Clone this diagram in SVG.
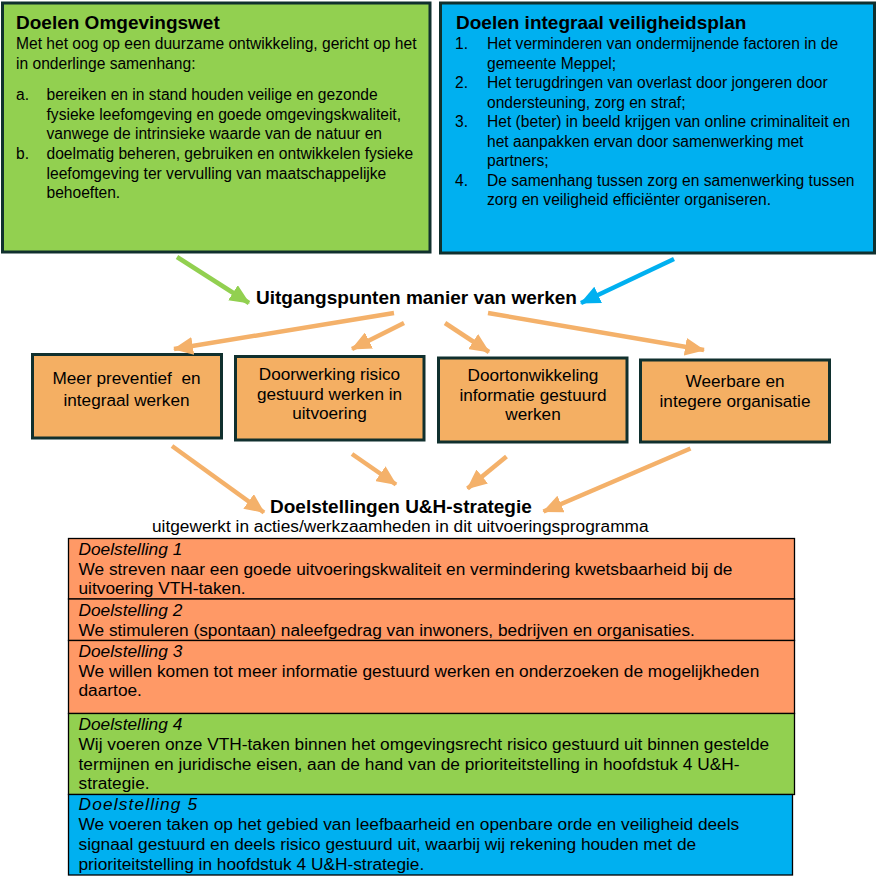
<svg xmlns="http://www.w3.org/2000/svg" width="877" height="878" viewBox="0 0 877 878">
<style>
text{font-family:"Liberation Sans",Arial,sans-serif;fill:#000}
.title{font-size:19px;font-weight:bold}
.body{font-size:15.6px}
.box{font-size:17.2px;text-anchor:middle}
.goal{font-size:17.3px}
.it{font-style:italic}
.pre{white-space:pre}
.hdr{stroke:#10302e;stroke-width:3}
.pbox{fill:#f4af63;stroke:#10302e;stroke-width:3}
.gbox{stroke:#000;stroke-width:1.3}
.arr{stroke-width:4.5;fill:none}
</style>
<defs>
<marker id="ah-o" markerUnits="userSpaceOnUse" markerWidth="20" markerHeight="18" refX="19" refY="9" orient="auto"><path d="M0,0 L20,9 L0,18 z" fill="#f4b16a"/></marker>
<marker id="ah-g" markerUnits="userSpaceOnUse" markerWidth="20" markerHeight="18" refX="19" refY="9" orient="auto"><path d="M0,0 L20,9 L0,18 z" fill="#92d050"/></marker>
<marker id="ah-b" markerUnits="userSpaceOnUse" markerWidth="20" markerHeight="18" refX="19" refY="9" orient="auto"><path d="M0,0 L20,9 L0,18 z" fill="#00b0f0"/></marker>
</defs>
<rect width="877" height="878" fill="#fff"/>

<g id="doelen-omgevingswet">
<rect class="hdr" x="2.5" y="3" width="427.5" height="249" fill="#92d050"/>
<text class="title" x="16" y="29">Doelen Omgevingswet</text>
<text class="body" x="16" y="49">Met het oog op een duurzame ontwikkeling, gericht op het</text>
<text class="body" x="16" y="68.5">in onderlinge samenhang:</text>
<text class="body" x="16" y="100">a.</text>
<text class="body" x="46.5" y="100">bereiken en in stand houden veilige en gezonde</text>
<text class="body" x="46.5" y="119.5">fysieke leefomgeving en goede omgevingskwaliteit,</text>
<text class="body" x="46.5" y="139">vanwege de intrinsieke waarde van de natuur en</text>
<text class="body" x="16" y="159">b.</text>
<text class="body" x="46.5" y="159">doelmatig beheren, gebruiken en ontwikkelen fysieke</text>
<text class="body" x="46.5" y="178.5">leefomgeving ter vervulling van maatschappelijke</text>
<text class="body" x="46.5" y="198">behoeften.</text>
</g>

<g id="doelen-ivp">
<rect class="hdr" x="440.5" y="3" width="434" height="250" fill="#00b0f0"/>
<text class="title" x="456" y="29">Doelen integraal veiligheidsplan</text>
<text class="body" x="455" y="49">1.</text>
<text class="body" x="487" y="49">Het verminderen van ondermijnende factoren in de</text>
<text class="body" x="487" y="68.5">gemeente Meppel;</text>
<text class="body" x="455" y="88">2.</text>
<text class="body" x="487" y="88">Het terugdringen van overlast door jongeren door</text>
<text class="body" x="487" y="107.5">ondersteuning, zorg en straf;</text>
<text class="body" x="455" y="127">3.</text>
<text class="body" x="487" y="127">Het (beter) in beeld krijgen van online criminaliteit en</text>
<text class="body" x="487" y="146.5">het aanpakken ervan door samenwerking met</text>
<text class="body" x="487" y="166">partners;</text>
<text class="body" x="455" y="185.5">4.</text>
<text class="body" x="487" y="185.5">De samenhang tussen zorg en samenwerking tussen</text>
<text class="body" x="487" y="205">zorg en veiligheid efficiënter organiseren.</text>
</g>

<g id="uitgangspunten">
<text class="title" x="256" y="304">Uitgangspunten manier van werken</text>
</g>

<g id="box-preventief">
<rect class="pbox" x="32.5" y="354.5" width="189" height="83.5"/>
<text class="box pre" x="126.5" y="384" xml:space="preserve">Meer preventief  en</text>
<text class="box" x="126.5" y="406">integraal werken</text>
</g>
<g id="box-risico">
<rect class="pbox" x="235.5" y="356.5" width="188.5" height="83.5"/>
<text class="box" x="329.5" y="380">Doorwerking risico</text>
<text class="box" x="329.5" y="399.5">gestuurd werken in</text>
<text class="box" x="329.5" y="419">uitvoering</text>
</g>
<g id="box-informatie">
<rect class="pbox" x="438.5" y="358" width="188.5" height="84"/>
<text class="box" x="533" y="381">Doortonwikkeling</text>
<text class="box" x="533" y="400.5">informatie gestuurd</text>
<text class="box" x="533" y="420">werken</text>
</g>
<g id="box-weerbaar">
<rect class="pbox" x="640.5" y="360" width="189" height="82"/>
<text class="box" x="735" y="387">Weerbare en</text>
<text class="box" x="735" y="407">integere organisatie</text>
</g>

<g id="doelstellingen-kop">
<text class="title" x="270" y="513">Doelstellingen U&amp;H-strategie</text>
<text class="goal" x="152" y="532">uitgewerkt in acties/werkzaamheden in dit uitvoeringsprogramma</text>
</g>

<g id="doelstelling-1">
<rect class="gbox" x="68.5" y="538.5" width="726" height="60.5" fill="#ff9966"/>
<text class="goal it" x="78.5" y="555">Doelstelling 1</text>
<text class="goal" x="78.5" y="574.5">We streven naar een goede uitvoeringskwaliteit en vermindering kwetsbaarheid bij de</text>
<text class="goal" x="78.5" y="594">uitvoering VTH-taken.</text>
</g>
<g id="doelstelling-2">
<rect class="gbox" x="68.5" y="599" width="726" height="41.5" fill="#ff9966"/>
<text class="goal it" x="78.5" y="616">Doelstelling 2</text>
<text class="goal" x="78.5" y="635.5">We stimuleren (spontaan) naleefgedrag van inwoners, bedrijven en organisaties.</text>
</g>
<g id="doelstelling-3">
<rect class="gbox" x="68.5" y="640.5" width="726" height="73" fill="#ff9966"/>
<text class="goal it" x="78.5" y="657">Doelstelling 3</text>
<text class="goal" x="78.5" y="676.5">We willen komen tot meer informatie gestuurd werken en onderzoeken de mogelijkheden</text>
<text class="goal" x="78.5" y="696">daartoe.</text>
</g>
<g id="doelstelling-4">
<rect class="gbox" x="68.5" y="713.5" width="726" height="81" fill="#92d050"/>
<text class="goal it" x="78.5" y="730">Doelstelling 4</text>
<text class="goal" x="78.5" y="750">Wij voeren onze VTH-taken binnen het omgevingsrecht risico gestuurd uit binnen gestelde</text>
<text class="goal" x="78.5" y="769.5">termijnen en juridische eisen, aan de hand van de prioriteitstelling in hoofdstuk 4 U&amp;H-</text>
<text class="goal" x="78.5" y="789">strategie.</text>
</g>
<g id="doelstelling-5">
<rect class="gbox" x="68.5" y="794.5" width="724" height="80.5" fill="#00b0f0"/>
<text class="goal it" x="78.5" y="810" letter-spacing="1.15">Doelstelling 5</text>
<text class="goal" x="78.5" y="830">We voeren taken op het gebied van leefbaarheid en openbare orde en veiligheid deels</text>
<text class="goal" x="78.5" y="850">signaal gestuurd en deels risico gestuurd uit, waarbij wij rekening houden met de</text>
<text class="goal" x="78.5" y="870">prioriteitstelling in hoofdstuk 4 U&amp;H-strategie.</text>
</g>

<g id="connectors">
<line class="arr" x1="177" y1="257" x2="249" y2="303" stroke="#92d050" marker-end="url(#ah-g)"/>
<line class="arr" x1="674" y1="259" x2="581" y2="303" stroke="#00b0f0" marker-end="url(#ah-b)"/>
<line class="arr" x1="394" y1="313" x2="174" y2="349" stroke="#f4b16a" marker-end="url(#ah-o)"/>
<line class="arr" x1="404" y1="323" x2="352" y2="349" stroke="#f4b16a" marker-end="url(#ah-o)"/>
<line class="arr" x1="445" y1="323" x2="489" y2="352" stroke="#f4b16a" marker-end="url(#ah-o)"/>
<line class="arr" x1="488" y1="313" x2="704" y2="350" stroke="#f4b16a" marker-end="url(#ah-o)"/>
<line class="arr" x1="172" y1="446" x2="264" y2="512.5" stroke="#f4b16a" marker-end="url(#ah-o)"/>
<line class="arr" x1="352" y1="454" x2="396" y2="484.5" stroke="#f4b16a" marker-end="url(#ah-o)"/>
<line class="arr" x1="506.5" y1="456.5" x2="467.5" y2="488.5" stroke="#f4b16a" marker-end="url(#ah-o)"/>
<line class="arr" x1="690.5" y1="448.5" x2="543.5" y2="511.5" stroke="#f4b16a" marker-end="url(#ah-o)"/>
</g>
</svg>
